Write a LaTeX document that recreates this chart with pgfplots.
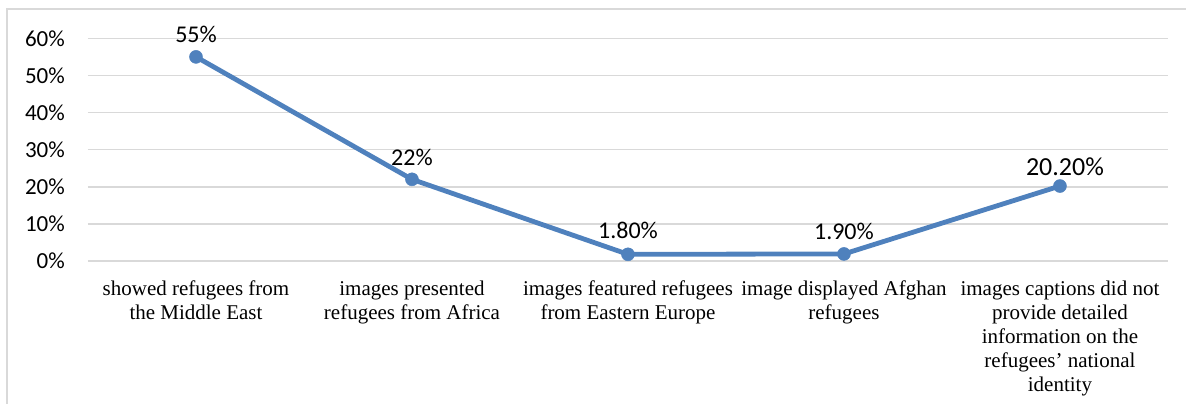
\documentclass[border=0pt]{standalone}
\usepackage{fontspec}
\setmainfont{Liberation Serif}
\newfontfamily\calibri{Carlito}
\usepackage{pgfplots}
\pgfplotsset{compat=1.18}
\definecolor{lineblue}{RGB}{79,129,189}
\definecolor{gridgray}{RGB}{217,217,217}

\begin{document}
\begin{tikzpicture}
% picture is 1186 x 404 (1pt = 1px); plot area origin at (0,0)
\useasboundingbox (-88pt,-143pt) rectangle (1098pt,261pt);
\draw[gridgray, line width=1.5pt] (-81pt,-143pt) -- (-81pt,252pt) -- (1098pt,252pt);
\begin{axis}[
  scale only axis, width=1080pt, height=222.7pt,
  xmin=-0.5, xmax=4.5, ymin=0, ymax=60,
  axis line style={draw=none},
  major tick length=0pt,
  ytick={0,10,...,60},
  yticklabels={0\%,10\%,20\%,30\%,40\%,50\%,60\%},
  ymajorgrids, grid style={gridgray, line width=1.5pt},
  yticklabel style={font=\calibri\fontsize{23}{27}\selectfont, inner sep=0pt, xshift=-23pt},
  xtick={0,1,2,3,4},
  xticklabels={
    {showed refugees from\\the Middle East},
    {images presented\\refugees from Africa},
    {images featured refugees\\from Eastern Europe},
    {image displayed Afghan\\refugees},
    {images captions did not\\provide detailed\\information on the\\refugees’ national\\identity}},
  xticklabel style={font=\fontsize{21}{24}\selectfont, align=center, anchor=north, inner sep=0pt, yshift=-20pt},
  clip=false,
]
\addplot[lineblue, line width=4.8pt, line join=round,
  mark=*, mark size=6.5pt, mark options={solid, fill=lineblue, draw=lineblue, line width=0.5pt},
  point meta=explicit symbolic,
  nodes near coords,
  nodes near coords style={font=\calibri\fontsize{24}{28}\selectfont, text=black, anchor=base, inner sep=0pt, yshift=14pt}]
  coordinates {
    (0,55) [55\%]
    (1,22) [22\%]
    (2,1.8) [\raisebox{2pt}{1.80\%}]
    (3,1.9) [1.90\%]
    (4,20.2) [{\fontsize{26}{30}\selectfont\hspace*{10pt}\raisebox{-3pt}{20.20\%}}]
  };
\end{axis}
\end{tikzpicture}
\end{document}
